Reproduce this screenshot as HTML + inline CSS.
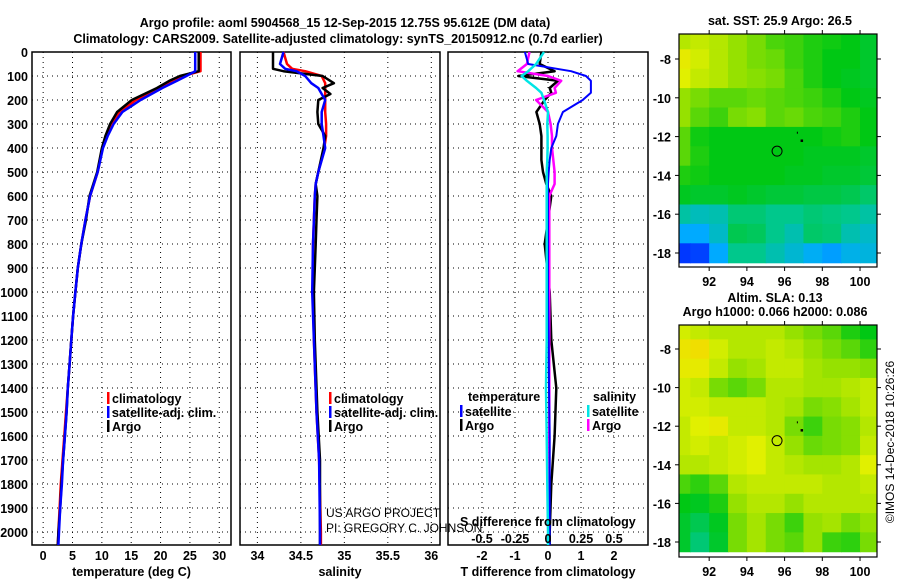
<!DOCTYPE html>
<html><head><meta charset="utf-8">
<style>
body{margin:0;background:#fff;}
svg{display:block;font-family:"Liberation Sans",sans-serif;}
.b{font-weight:bold;font-size:12.5px;}
</style></head>
<body>
<svg id="chart" width="900" height="580" viewBox="0 0 900 580" xmlns="http://www.w3.org/2000/svg">
<text x="345" y="27" text-anchor="middle" class="b" font-size="14">Argo profile: aoml 5904568_15 12-Sep-2015 12.75S 95.612E (DM data)</text>
<text x="338" y="43" text-anchor="middle" class="b" font-size="14">Climatology: CARS2009. Satellite-adjusted climatology: synTS_20150912.nc (0.7d earlier)</text>
<text x="780" y="25" text-anchor="middle" class="b" font-size="12">sat. SST: 25.9 Argo: 26.5</text>
<text x="775" y="302" text-anchor="middle" class="b" font-size="12">Altim. SLA: 0.13</text>
<text x="775" y="316" text-anchor="middle" class="b" font-size="12">Argo h1000: 0.066 h2000: 0.086</text>
<text transform="translate(894,442) rotate(-90)" text-anchor="middle" font-size="12">©IMOS 14-Dec-2018 10:26:26</text>
<g id="g"></g>
</svg>
<script>
// ---- profile data ----
const tDepth = [0,80,100,120,150,200,250,300,350,400,500,600,700,800,900,1000,1100,1200,1300,1400,1500,1600,1700,1800,1900,2000,2054];
const tArgo  = [26.5,26.5,23.3,21.5,19.4,15.1,12.6,11.4,10.6,10.0,9.2,7.9,7.3,6.5,5.9,5.5,5.1,4.8,4.5,4.2,4.0,3.7,3.4,3.1,2.9,2.6,2.5];
const tClim  = [26.8,26.8,23.8,22.0,19.9,15.8,13.0,11.7,10.8,10.1,9.3,8.0,7.2,6.5,5.9,5.5,5.1,4.8,4.5,4.2,3.9,3.6,3.3,3.0,2.8,2.6,2.5];
const tSat   = [25.9,25.9,24.4,22.8,20.3,16.6,13.5,12.0,11.0,10.2,9.3,8.0,7.2,6.5,5.9,5.5,5.1,4.8,4.5,4.2,4.0,3.7,3.4,3.2,2.9,2.7,2.6];
const sDepth = [0,50,70,80,100,130,150,175,200,250,300,350,400,500,550,600,700,800,1000,1200,1500,1700,2000,2054];
const sArgo  = [34.18,34.18,34.18,34.3,34.75,34.88,34.75,34.84,34.70,34.69,34.70,34.78,34.76,34.70,34.67,34.69,34.68,34.67,34.65,34.66,34.69,34.72,34.72,34.72];
const sClim  = [34.30,34.34,34.40,34.55,34.74,34.78,34.78,34.78,34.78,34.78,34.79,34.79,34.77,34.70,34.67,34.66,34.65,34.64,34.64,34.65,34.68,34.71,34.73,34.73];
const sSat   = [34.30,34.26,34.32,34.45,34.55,34.62,34.70,34.74,34.78,34.74,34.74,34.76,34.78,34.70,34.67,34.66,34.65,34.64,34.63,34.65,34.68,34.71,34.72,34.72];
const dDepth = [0,50,80,100,120,150,170,200,250,300,350,400,450,500,550,600,700,800,1000,1200,1400,1600,1800,2000,2054];
const dtSat  = [-0.7,-0.6,0.7,1.15,1.3,1.3,1.3,1.05,0.45,0.3,0.25,0.1,0.05,0.02,0.0,0.0,0.0,0.0,0.0,0.02,0.03,0.05,0.05,0.05,0.05];
const dtArgo = [-0.2,-0.25,0.2,-0.9,0.3,0.05,0.1,-0.1,-0.35,-0.25,-0.2,-0.2,-0.2,-0.15,-0.05,0.1,0.0,-0.1,0.05,0.1,0.25,0.2,0.1,0.05,0.05];
const dsSat  = [-0.03,-0.09,-0.15,-0.2,-0.16,-0.09,-0.05,-0.03,0.0,-0.005,-0.003,-0.003,-0.005,-0.01,-0.01,-0.01,-0.01,-0.01,-0.01,-0.01,-0.015,-0.01,-0.005,0.0,0.0];
const dsArgo = [-0.14,-0.16,-0.23,0.0,0.1,0.05,0.06,-0.09,0.0,0.02,0.03,0.03,0.04,0.05,0.05,0.01,0.01,0.01,0.01,0.01,0.01,0.01,0.01,0.005,0.005];
const yTicks = [0,100,200,300,400,500,600,700,800,900,1000,1100,1200,1300,1400,1500,1600,1700,1800,1900,2000];
const tTicks = [0,5,10,15,20,25,30];
const sTicks = [34,34.5,35,35.5,36];
const sTickLabels = ["34","34.5","35","35.5","36"];
const dTTicks = [-2,-1,0,1,2];
const dSTicks = [-0.5,-0.25,0,0.25,0.5];
const dSTickLabels = ["-0.5","-0.25","0","0.25","0.5"];
// ---- maps data (rows lat -7..-18, cols lon 90.5..100.5) ----
const mapLons = [90.5,91.5,92.5,93.5,94.5,95.5,96.5,97.5,98.5,99.5,100.5];
const mapLats = [-7,-8,-9,-10,-11,-12,-13,-14,-15,-16,-17,-18];
const sst = [
[5.2,5.3,5.2,5,4.8,4.5,4.4,4.2,4.1,4,3.8],
[5.6,5.4,5.2,5,4.8,4.7,4.4,4.2,4,4,3.8],
[5.5,5.3,5.2,5,4.9,4.8,4.5,4.2,4,3.9,3.8],
[5,4.8,4.6,4.6,4.7,4.6,4.5,4.4,4.2,4,3.9],
[5,4.6,4.4,4.8,4.9,4.6,4.7,4.5,4.4,4.2,4],
[4.6,4.1,4,4,4,4,4,4,4.1,4.2,4],
[4.6,4.2,4,4,4,4,4,3.9,3.9,3.9,3.8],
[4.2,4.1,4,4,4,4,3.9,3.9,3.8,3.8,3.7],
[3.9,3.8,3.8,3.9,3.8,3.7,3.7,3.6,3.6,3.5,3.3],
[2.8,2.6,2.7,3.2,3.2,3.0,3.0,3.2,3.1,3.0,2.8],
[2.0,2.0,2.5,3.5,3.4,3.0,2.7,3.3,3.2,2.7,2.5],
[0.5,0.6,2.0,3.0,3,2.7,2.4,2.1,1.8,2.2,2.3]];
const sla = [
[5.4,5.3,5.2,5.2,5.2,5.2,5.0,4.8,4.6,4.2,4.0],
[5.7,5.8,5.4,5.2,5.2,5.3,5.2,5.0,4.8,4.6,4.3],
[5.6,5.6,5.3,5.0,5.1,5.3,5.3,5.1,5.0,5.0,4.9],
[5.4,5.3,4.8,4.6,4.8,5.2,5.2,5.1,5.1,5.2,5.3],
[5.4,5.4,5.3,5.3,5.3,5.2,5.1,4.8,4.9,5.1,5.3],
[5.3,5.5,5.6,5.3,5.3,5.2,4.8,4.4,4.8,4.9,5.2],
[5.3,5.4,5.3,5.4,5.5,5.3,5.0,4.7,4.8,4.9,5.3],
[5.2,5.2,5.3,5.4,5.5,5.3,5.2,5.1,5.1,5.2,5.5],
[4.5,4.3,4.6,5.2,5.3,5.3,5.3,5.3,5.2,5.2,5.3],
[4.0,3.9,4.2,5.0,5.2,5.2,5.0,5.2,5.2,5.2,5.2],
[3.8,3.5,3.9,4.8,5.1,4.8,4.4,5.0,5.1,4.8,5.0],
[3.8,3.2,3.8,4.8,5.1,4.8,4.6,5.0,4.4,4.3,4.8]];
const mapLonTicks = [92,94,96,98,100];
const mapLatTicks = [-8,-10,-12,-14,-16,-18];
const floatPos = [95.6,-12.75];

const NS="http://www.w3.org/2000/svg";
const G=document.getElementById('g');
function mk(tag,attrs,parent){const e=document.createElementNS(NS,tag);for(const k in attrs)e.setAttribute(k,attrs[k]);(parent||G).appendChild(e);return e;}
function txt(s,attrs,parent){const e=mk('text',attrs,parent);e.textContent=s;return e;}

const Y0=52, Y1=545, DMAX=2054;
const yD=d=>Y0+(d/DMAX)*(Y1-Y0);

function panel(name,x0,x1,xmin,xmax,ticks,labels,titleText){
  const sx=v=>x0+(v-xmin)/(xmax-xmin)*(x1-x0);
  const g=mk('g',{});
  
  
  ticks.forEach((t,i)=>{
    const x=sx(t);
    const l=mk('line',{x1:x,x2:x,y1:Y0,y2:Y1,stroke:'#000','stroke-width':1,'stroke-dasharray':'1,4'},g);
    
    
    const tl=txt(labels[i],{x:x,y:560,'text-anchor':'middle',class:'b'},g);
    
    
  });
  yTicks.forEach(d=>{
    const y=yD(d);
    const l=mk('line',{x1:x0,x2:x1,y1:y,y2:y,stroke:'#000','stroke-width':1,'stroke-dasharray':'1,4'},g);
    
    
  });
  const r=mk('rect',{x:x0,y:Y0,width:x1-x0,height:Y1-Y0,fill:'none',stroke:'#000','stroke-width':1.5},g);
  
  
  if(titleText){const t=txt(titleText,{x:(x0+x1)/2,y:576,'text-anchor':'middle',class:'b'},g);
    
    }
  return sx;
}
function line(name,sx,vals,depths,color,w){
  let pts=[];
  for(let i=0;i<vals.length;i++){
    pts.push(sx(vals[i]).toFixed(1)+','+yD(depths[i]).toFixed(1));
  }
  const p=mk('polyline',{points:pts.join(' '),fill:'none',stroke:color,'stroke-width':w||2.5,'stroke-linejoin':'round'});
  
  
}

yTicks.forEach(d=>{
  const t=txt(String(d),{x:28,y:yD(d)+5,'text-anchor':'end',class:'b'});
  
  
});

const sxT=panel('temperature-panel',32,231,-1.9,32,tTicks,tTicks.map(String),'temperature (deg C)');
line('temp-climatology',sxT,tClim,tDepth,'#ff0000');
line('temp-argo',sxT,tArgo,tDepth,'#000000');
line('temp-satellite-adj',sxT,tSat,tDepth,'#0000ff');
const sxS=panel('salinity-panel',240,440,33.8,36.1,sTicks,sTickLabels,'salinity');
line('sal-climatology',sxS,sClim,sDepth,'#ff0000');
line('sal-argo',sxS,sArgo,sDepth,'#000000');
line('sal-satellite-adj',sxS,sSat,sDepth,'#0000ff');
const sxD=panel('difference-panel',448,648,-3.03,3.03,dTTicks,dTTicks.map(String),'T difference from climatology');
const sxDS=v=>sxD(v*4);
line('dT-argo',sxD,dtArgo,dDepth,'#000000');
line('dS-argo',sxDS,dsArgo,dDepth,'#ff00ff');
line('dT-satellite',sxD,dtSat,dDepth,'#0000ff',2);
line('dS-satellite',sxDS,dsSat,dDepth,'#00e5e5');
dSTicks.forEach((t,i)=>{
  const l=txt(dSTickLabels[i],{x:sxDS(t),y:543,'text-anchor':'middle',class:'b'});
  
  
});
{const t=txt('S difference from climatology',{x:460,y:526,class:'b'});

}

{const t=txt('US ARGO PROJECT',{x:326,y:517,'font-size':12});


const t2=txt('PI: GREGORY C. JOHNSON',{x:326,y:532,'font-size':12});

}

function legItem(name,x,y,color,label){
  const r=mk('rect',{x:x,y:y-11,width:2.5,height:12,fill:color});
  
  
  const t=txt(label,{x:x+5,y:y,class:'b'});
  
  
}
legItem('legend-climatology',107,403,'#ff0000','climatology');
legItem('legend-satellite-adj',107,417,'#0000ff','satellite-adj. clim.');
legItem('legend-argo',107,431,'#000000','Argo');
legItem('legend-sal-climatology',329,403,'#ff0000','climatology');
legItem('legend-sal-satellite-adj',329,417,'#0000ff','satellite-adj. clim.');
legItem('legend-sal-argo',329,431,'#000000','Argo');
{const t=txt('temperature',{x:468,y:401,class:'b'});
const t2=txt('salinity',{x:593,y:401,class:'b'});}
legItem('legend-dT-satellite',460,416,'#0000ff','satellite');
legItem('legend-dT-argo',460,430,'#000000','Argo');
legItem('legend-dS-satellite',587,416,'#00e5e5','satellite');
legItem('legend-dS-argo',587,430,'#ff00ff','Argo');

const stops=[[0,[0,0,255]],[1,[0,110,255]],[2,[0,170,255]],[3,[0,200,140]],[4,[0,200,20]],[5,[150,225,0]],[5.5,[225,240,0]],[6,[250,210,0]]];
function col(v){
  v=Math.max(0,Math.min(6,v));
  for(let i=0;i<stops.length-1;i++){
    if(v<=stops[i+1][0]){
      const f=(v-stops[i][0])/(stops[i+1][0]-stops[i][0]);
      const a=stops[i][1],b=stops[i+1][1];
      return 'rgb('+a.map((c,k)=>Math.round(c+(b[k]-c)*f)).join(',')+')';
    }
  }
  return 'rgb(250,210,0)';
}
function map(name,grid,x0,x1,y0,y1,lat8y,lat18y){
  const lonMin=90.4,lonMax=100.9;
  const sx=l=>x0+(l-lonMin)/(lonMax-lonMin)*(x1-x0);
  const sy=la=>lat8y+(la+8)/(-10)*(lat18y-lat8y);
  const g=mk('g',{});
  
  
  const clip=mk('clipPath',{id:name+'-clip'},g);
  mk('rect',{x:x0,y:y0,width:x1-x0,height:y1-y0},clip);
  const cg=mk('g',{'clip-path':'url(#'+name+'-clip)'},g);
  for(let r=0;r<mapLats.length;r++)for(let c=0;c<mapLons.length;c++){
    const xa=sx(mapLons[c]-0.5),xb=sx(mapLons[c]+0.5);
    const ya=sy(mapLats[r]+0.5),yb=sy(mapLats[r]-0.5);
    const cell=mk('rect',{x:xa,y:ya,width:xb-xa+0.6,height:yb-ya+0.6,fill:col(grid[r][c])},cg);
    
    
  }
  const fr=mk('rect',{x:x0,y:y0,width:x1-x0,height:y1-y0,fill:'none',stroke:'#000','stroke-width':1.2},g);
  
  
  mapLonTicks.forEach(l=>{
    mk('line',{x1:sx(l),x2:sx(l),y1:y0,y2:y0-4,stroke:'#000'},g);
    mk('line',{x1:sx(l),x2:sx(l),y1:y1,y2:y1+4,stroke:'#000'},g);
    const t=txt(String(l),{x:sx(l),y:y1+19,'text-anchor':'middle',class:'b'},g);
    
    
  });
  mapLatTicks.forEach(la=>{
    mk('line',{x1:x0,x2:x0-4,y1:sy(la),y2:sy(la),stroke:'#000'},g);
    mk('line',{x1:x1,x2:x1+4,y1:sy(la),y2:sy(la),stroke:'#000'},g);
    const t=txt(String(la),{x:x0-8,y:sy(la)+5,'text-anchor':'end',class:'b'},g);
    
    
  });
  const c=mk('circle',{cx:sx(floatPos[0]),cy:sy(floatPos[1]),r:5,fill:'none',stroke:'#000','stroke-width':1},g);
  
  
  mk('rect',{x:sx(96.9)-1,y:sy(-12.2)-1,width:2.5,height:2.5,fill:'#000'},g);
  mk('rect',{x:sx(96.65),y:sy(-11.8)-1,width:1,height:2,fill:'#000'},g);
}
map('sst-map',sst,679,877,34,267,59,253);
map('sla-map',sla,679,877,325,557,349,542);
</script>
</body></html>
